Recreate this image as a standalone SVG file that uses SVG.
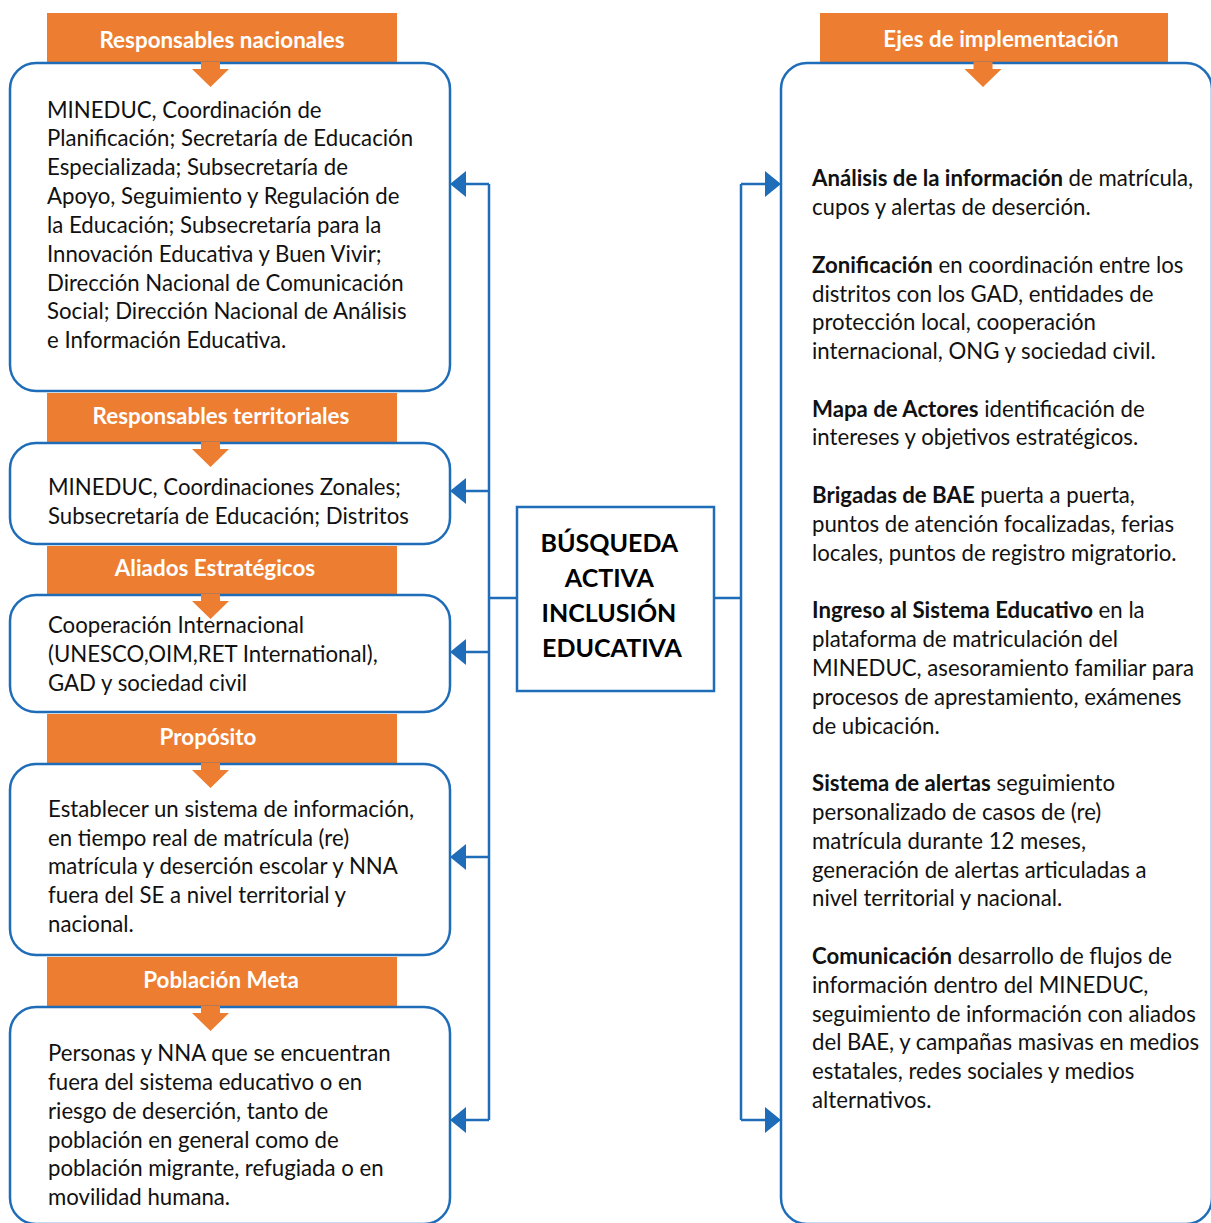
<svg xmlns="http://www.w3.org/2000/svg" width="1211" height="1223" viewBox="0 0 1211 1223">
<style>
.box{fill:#fff;stroke:#1F6DB8;stroke-width:2.5}
.ban{fill:#ED7D31}
.bt{font-family:Lato,"Liberation Sans",sans-serif;font-weight:bold;font-size:22.4px;fill:#fff;text-anchor:middle}
.tx{font-family:Lato,"Liberation Sans",sans-serif;font-size:22.2px;fill:#111}
.b{font-weight:bold}
.ct{font-family:Lato,"Liberation Sans",sans-serif;font-weight:bold;font-size:25px;fill:#000;text-anchor:middle}
.ln{fill:none;stroke:#1F6DB8;stroke-width:2.5}
.ah{fill:#1F6DB8}
</style>
<defs>
<path id="oar" d="M201,-1 H220 V6 H229 L210.5,24 L192,6 H201 Z" fill="#ED7D31"/>
</defs>

<g id="connectors">
<path class="ln" d="M517,598 H489 M489,184 V1120 M489,184 H466 M489,491 H466 M489,652 H466 M489,857 H466 M489,1120 H466"/>
<path class="ln" d="M714,598 H741 M741,184 V1120 M741,184 H765 M741,1120 H765"/>
<g class="ah">
<polygon points="450,184 466,171 466,197"/>
<polygon points="450,491 466,478 466,504"/>
<polygon points="450,652 466,639 466,665"/>
<polygon points="450,857 466,844 466,870"/>
<polygon points="450,1120 466,1107 466,1133"/>
<polygon points="781,184 765,171 765,197"/>
<polygon points="781,1120 765,1107 765,1133"/>
</g>
</g>

<g id="responsables-nacionales">
<rect class="ban" x="47" y="13" width="350" height="50"/>
<rect class="box" x="10" y="63" width="440" height="328" rx="26"/>
<use href="#oar" y="63"/>
<text class="bt" x="222" y="48">Responsables nacionales</text>
<text class="tx" x="47">
<tspan x="47" y="118">MINEDUC, Coordinación de</tspan>
<tspan x="47" y="146">Planificación; Secretaría de Educación</tspan>
<tspan x="47" y="175">Especializada; Subsecretaría de</tspan>
<tspan x="47" y="204">Apoyo, Seguimiento y Regulación de</tspan>
<tspan x="47" y="233">la Educación; Subsecretaría para la</tspan>
<tspan x="47" y="262">Innovación Educativa y Buen Vivir;</tspan>
<tspan x="47" y="291">Dirección Nacional de Comunicación</tspan>
<tspan x="47" y="319">Social; Dirección Nacional de Análisis</tspan>
<tspan x="47" y="348">e Información Educativa.</tspan>
</text>
</g>

<g id="responsables-territoriales">
<rect class="ban" x="47" y="393" width="350" height="50"/>
<rect class="box" x="10" y="443" width="440" height="101" rx="26"/>
<use href="#oar" y="443"/>
<text class="bt" x="221" y="424">Responsables territoriales</text>
<text class="tx">
<tspan x="48" y="495">MINEDUC, Coordinaciones Zonales;</tspan>
<tspan x="48" y="524">Subsecretaría de Educación; Distritos</tspan>
</text>
</g>

<g id="aliados-estrategicos">
<rect class="ban" x="47" y="546" width="350" height="49"/>
<rect class="box" x="10" y="595" width="440" height="117" rx="26"/>
<use href="#oar" y="595"/>
<text class="bt" x="215" y="576">Aliados Estratégicos</text>
<text class="tx">
<tspan x="48" y="633">Cooperación Internacional</tspan>
<tspan x="48" y="662">(UNESCO,OIM,RET International),</tspan>
<tspan x="48" y="691">GAD y sociedad civil</tspan>
</text>
</g>

<g id="proposito">
<rect class="ban" x="47" y="714" width="350" height="50"/>
<rect class="box" x="10" y="764" width="440" height="191" rx="26"/>
<use href="#oar" y="764"/>
<text class="bt" x="208" y="745">Propósito</text>
<text class="tx">
<tspan x="48" y="817">Establecer un sistema de información,</tspan>
<tspan x="48" y="846">en tiempo real de matrícula (re)</tspan>
<tspan x="48" y="874">matrícula y deserción escolar y NNA</tspan>
<tspan x="48" y="903">fuera del SE a nivel territorial y</tspan>
<tspan x="48" y="932">nacional.</tspan>
</text>
</g>

<g id="poblacion-meta">
<rect class="ban" x="47" y="957" width="350" height="50"/>
<rect class="box" x="10" y="1007" width="440" height="217" rx="26"/>
<use href="#oar" y="1007"/>
<text class="bt" x="221" y="988">Población Meta</text>
<text class="tx">
<tspan x="48" y="1061">Personas y NNA que se encuentran</tspan>
<tspan x="48" y="1090">fuera del sistema educativo o en</tspan>
<tspan x="48" y="1119">riesgo de deserción, tanto de</tspan>
<tspan x="48" y="1148">población en general como de</tspan>
<tspan x="48" y="1176">población migrante, refugiada o en</tspan>
<tspan x="48" y="1205">movilidad humana.</tspan>
</text>
</g>

<g id="busqueda-activa">
<rect x="517" y="507" width="197" height="184" fill="#fff" stroke="#1F6DB8" stroke-width="2.5"/>
<text class="ct">
<tspan x="612" y="552">BÚSQUEDA</tspan>
<tspan x="612" y="587">ACTIVA</tspan>
<tspan x="612" y="622">INCLUSIÓN</tspan>
<tspan x="612" y="657">EDUCATIVA</tspan>
</text>
</g>

<g id="ejes-de-implementacion">
<rect class="ban" x="820" y="13" width="348" height="50"/>
<rect class="box" x="781" y="63" width="431" height="1161" rx="26"/>
<use href="#oar" x="772.5" y="63"/>
<text class="bt" x="1001" y="47">Ejes de implementación</text>
<text class="tx">
<tspan x="812" y="186"><tspan class="b">Análisis de la información</tspan> de matrícula,</tspan>
<tspan x="812" y="215">cupos y alertas de deserción.</tspan>
<tspan x="812" y="273"><tspan class="b">Zonificación</tspan> en coordinación entre los</tspan>
<tspan x="812" y="302">distritos con los GAD, entidades de</tspan>
<tspan x="812" y="330">protección local, cooperación</tspan>
<tspan x="812" y="359">internacional, ONG y sociedad civil.</tspan>
<tspan x="812" y="417"><tspan class="b">Mapa de Actores</tspan> identificación de</tspan>
<tspan x="812" y="445">intereses y objetivos estratégicos.</tspan>
<tspan x="812" y="503"><tspan class="b">Brigadas de BAE</tspan> puerta a puerta,</tspan>
<tspan x="812" y="532">puntos de atención focalizadas, ferias</tspan>
<tspan x="812" y="561">locales, puntos de registro migratorio.</tspan>
<tspan x="812" y="618"><tspan class="b">Ingreso al Sistema Educativo</tspan> en la</tspan>
<tspan x="812" y="647">plataforma de matriculación del</tspan>
<tspan x="812" y="676">MINEDUC, asesoramiento familiar para</tspan>
<tspan x="812" y="705">procesos de aprestamiento, exámenes</tspan>
<tspan x="812" y="734">de ubicación.</tspan>
<tspan x="812" y="791"><tspan class="b">Sistema de alertas</tspan> seguimiento</tspan>
<tspan x="812" y="820">personalizado de casos de (re)</tspan>
<tspan x="812" y="849">matrícula durante 12 meses,</tspan>
<tspan x="812" y="878">generación de alertas articuladas a</tspan>
<tspan x="812" y="906">nivel territorial y nacional.</tspan>
<tspan x="812" y="964"><tspan class="b">Comunicación</tspan> desarrollo de flujos de</tspan>
<tspan x="812" y="993">información dentro del MINEDUC,</tspan>
<tspan x="812" y="1022">seguimiento de información con aliados</tspan>
<tspan x="812" y="1050">del BAE, y campañas masivas en medios</tspan>
<tspan x="812" y="1079">estatales, redes sociales y medios</tspan>
<tspan x="812" y="1108">alternativos.</tspan>
</text>
</g>
</svg>
